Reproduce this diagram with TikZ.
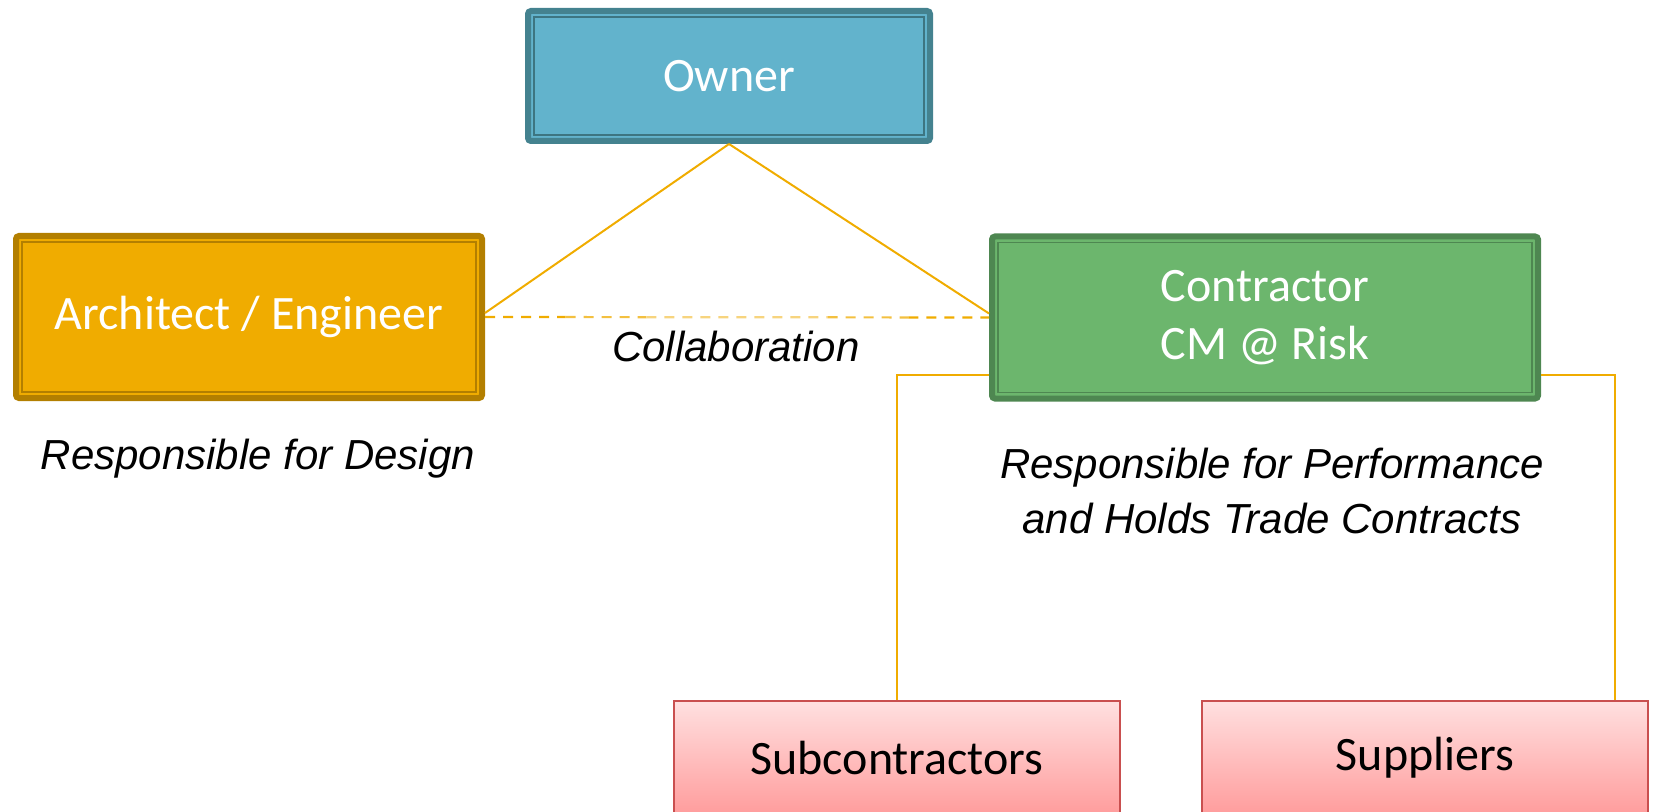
\documentclass[tikz,border=0pt]{standalone}
\usepackage{fontspec}
\setmainfont{Carlito}
\newfontfamily\arialf{Liberation Sans}
\usetikzlibrary{calc}
\definecolor{ownfill}{HTML}{62B3CC}
\definecolor{owndark}{HTML}{44828F}
\definecolor{archfill}{HTML}{F0AC00}
\definecolor{archdark}{HTML}{B37F00}
\definecolor{confill}{HTML}{6CB66D}
\definecolor{condark}{HTML}{4E8751}
\definecolor{pinktop}{HTML}{FFE0E0}
\definecolor{pinkbot}{HTML}{FF9C9C}
\definecolor{pinkdark}{HTML}{C94F4F}
\definecolor{lineor}{HTML}{F0AC00}
\definecolor{linemid}{HTML}{F3C040}
\definecolor{linelight}{HTML}{F7D47E}
\tikzset{
  bigbox/.style={rectangle, rounded corners=1.5pt, line width=3pt, outer sep=1.5pt,
     inner sep=0pt, text=white, font=\fontsize{24}{29}\selectfont, align=center},
  ownbox/.style={bigbox, fill=ownfill, draw=owndark, minimum width=201pt, minimum height=65pt},
  archbox/.style={bigbox, fill=archfill, draw=archdark, minimum width=233pt, minimum height=81pt},
  conbox/.style={bigbox, fill=confill, draw=condark, minimum width=273pt, minimum height=81pt},
  pinkbox/.style={rectangle, line width=1pt, outer sep=0.5pt, draw=pinkdark, top color=pinktop,
     bottom color=pinkbot, minimum width=223pt, minimum height=57pt, inner sep=0pt,
     font=\fontsize{24}{29}\selectfont},
  innerline/.style={line width=0.75pt},
  conn/.style={draw=lineor, line width=1pt},
  dashline/.style={line width=1.1pt, dash pattern=on 5pt off 4pt},
  note/.style={font=\arialf\itshape\fontsize{21}{27.5}\selectfont, align=center, text=black}
}
\begin{document}
\begin{tikzpicture}[x=0.5pt, y=-0.5pt]
\useasboundingbox (0,0) rectangle (1653,812);
\node[ownbox] (own) at (729,76) {Owner};
\node[archbox] (arch) at (249,317) {Architect / Engineer};
\node[conbox] (con) at (1265,317.5) {Contractor\\CM @ Risk};
\node[pinkbox] (sub) at (897,758) {Subcontractors};
\node[pinkbox] (sup) at (1425,758) {Suppliers};

\draw[innerline, owndark!90!black] ([shift={(9,9)}]own.north west) rectangle ([shift={(-9,-9)}]own.south east);
\draw[innerline, archdark] ([shift={(9,9)}]arch.north west) rectangle ([shift={(-9,-9)}]arch.south east);
\draw[innerline, condark] ([shift={(9,9)}]con.north west) rectangle ([shift={(-9,-9)}]con.south east);

\node[note] (collab) at (736,346) {Collaboration};
\node[note] (design) at (258,459) {Responsible for Design};
\node[note] (perf) at (1272,491) {Responsible for Performance\\and Holds Trade Contracts};

\draw[conn] (own.south) -- ([yshift=2pt]arch.east);
\draw[conn] (own.south) -- ([yshift=2pt]con.west);

\foreach \a/\b/\c in {0/0.16/lineor, 0.16/0.32/linemid, 0.32/0.68/linelight, 0.68/0.84/linemid, 0.84/1/lineor}
  \draw[dashline, draw=\c] ($(arch.east)!\a!(con.west)$) -- ($(arch.east)!\b!(con.west)$);

\coordinate (cl) at ($(con.south west)+(0,-26)$);
\coordinate (cr) at ($(con.south east)+(0,-26)$);
\coordinate (supin) at ($(sup.north east)+(-34,0)$);
\draw[conn] (cl) -| (sub.north);
\draw[conn] (cr) -| (supin);
\end{tikzpicture}
\end{document}
